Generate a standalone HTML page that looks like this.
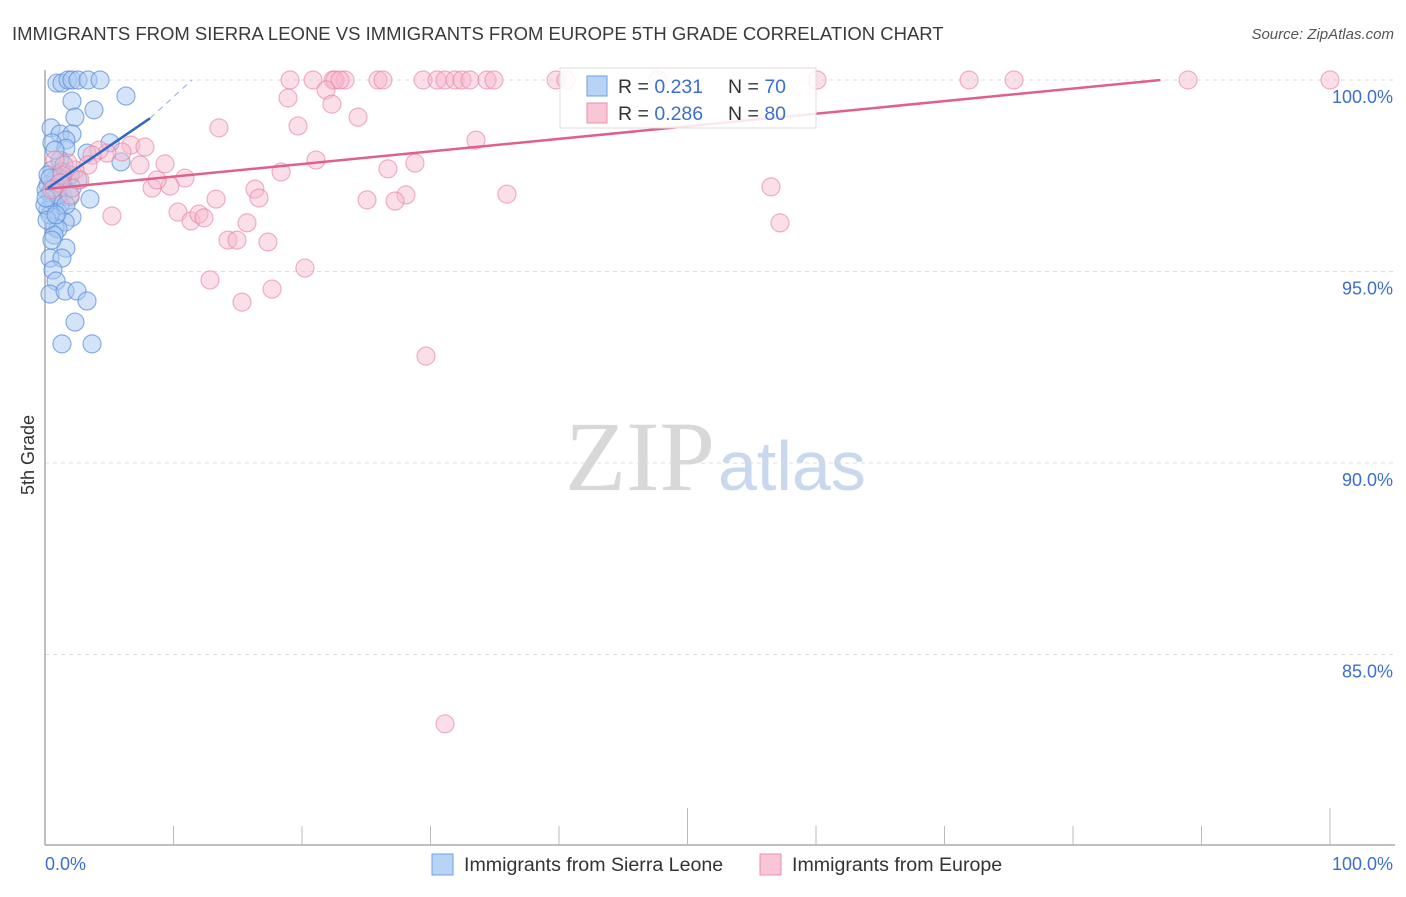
<!DOCTYPE html>
<html><head><meta charset="utf-8"><style>
body{margin:0;background:#fff;font-family:"Liberation Sans",sans-serif;}
svg text{font-family:"Liberation Sans",sans-serif;}
</style></head><body>
<svg id="chart" width="1406" height="892" xmlns="http://www.w3.org/2000/svg">
<text x="12" y="40" font-size="18.5" fill="#3a3a3a">IMMIGRANTS FROM SIERRA LEONE VS IMMIGRANTS FROM EUROPE 5TH GRADE CORRELATION CHART</text>
<text x="1394" y="39" font-size="15" fill="#555" font-style="italic" text-anchor="end">Source: ZipAtlas.com</text>
<text transform="translate(34,455) rotate(-90)" font-size="18" fill="#333" text-anchor="middle">5th Grade</text>
<g>
<text x="715" y="490" font-size="100" fill="#d8d8d8" style="font-family:'Liberation Serif',serif" text-anchor="end">ZIP</text>
<text x="718" y="490" font-size="70" fill="#c8d8ee">atlas</text>
</g>
<g id="grid"></g><g id="axes"></g><g id="trend"></g><g id="pts"></g>
<g>
<rect x="560" y="68" width="256" height="60" fill="#fff" fill-opacity="0.85" stroke="#ddd"/>
<rect x="587" y="76" width="20" height="20" fill="#b7d3f5" stroke="#6fa0e0"/>
<rect x="587" y="103" width="20" height="20" fill="#f9c6d6" stroke="#e890ad"/>
<text x="618" y="93" font-size="19.5" fill="#333">R = <tspan fill="#3a6fd0">0.231</tspan></text>
<text x="728" y="93" font-size="19.5" fill="#333">N = <tspan fill="#3a6fd0">70</tspan></text>
<text x="618" y="120" font-size="19.5" fill="#333">R = <tspan fill="#3a6fd0">0.286</tspan></text>
<text x="728" y="120" font-size="19.5" fill="#333">N = <tspan fill="#3a6fd0">80</tspan></text>
</g>
<g>
<rect x="432" y="854" width="21" height="21" fill="#b7d3f5" stroke="#6fa0e0"/>
<text x="464" y="871" font-size="19.6" fill="#333">Immigrants from Sierra Leone</text>
<rect x="760" y="854" width="21" height="21" fill="#f9c6d6" stroke="#e890ad"/>
<text x="792" y="871" font-size="19.6" fill="#333">Immigrants from Europe</text>
</g>
</svg>
<script>
const xTickLabels=["0.0%","100.0%"];
const yTicks=[100,95,90,85];
const yTickLabels=["100.0%","95.0%","90.0%","85.0%"];
const blueX=[0.93,1.32,1.79,2.1,2.57,3.35,4.28,6.3,2.1,3.81,2.33,0.47,1.17,2.1,1.63,0.54,1.63,5.06,3.27,5.91,0.54,0.86,0.23,1.01,1.71,2.57,0.39,1.32,1.95,3.5,0.78,1.17,0.23,1.01,2.1,1.56,0.78,1.01,0.7,1.63,0.39,1.32,0.62,0.86,0.39,1.56,2.49,3.27,2.33,1.32,3.66,0.39,0.54,0.08,0.23,1.17,0.78,1.48,1.95,0,0.16,0.54,1.01,0.7,1.63,2.1,0.39,1.32,0.08,0.86];
const blueY=[99.92,99.92,100,100,100,100,100,99.58,99.45,99.22,99.03,98.75,98.59,98.59,98.43,98.36,98.22,98.36,98.09,97.86,97.65,97.44,97.26,97.26,97.39,97.39,97.05,97.05,96.95,96.89,96.81,96.74,96.61,96.55,96.42,96.29,96.16,96.11,95.95,95.61,95.35,95.35,95.04,94.75,94.41,94.49,94.49,94.23,93.68,93.11,93.11,96.48,96.87,97.13,97.52,97.91,98.17,97.78,97.52,96.74,96.34,95.82,97.0,97.18,96.74,97.18,97.44,97.6,96.92,96.48];
const pinkX=[19.07,20.86,22.41,23.35,25.91,26.3,29.42,30.51,31.13,31.91,32.45,33.07,34.4,34.94,39.77,40.54,47.7,60.08,71.91,75.41,88.95,100,22.57,22.96,18.91,21.87,22.33,24.36,13.54,19.69,33.54,21.09,26.69,28.79,18.37,16.34,16.65,28.09,27.24,25.06,35.95,13.31,56.5,57.2,20.23,12.84,15.33,17.67,29.65,31.13,5.21,10.35,11.36,11.98,12.37,14.24,14.94,15.72,17.35,10.89,9.73,8.33,8.72,9.34,7.39,6.69,7.78,5.99,4.82,4.2,3.66,3.35,2.33,1.79,1.32,0.78,1.17,1.95,0.54,2.72];
const pinkY=[100,100,100,100,100,100,100,100,100,100,100,100,100,100,100,100,100,100,100,100,100,100,100,100,99.53,99.74,99.37,99.03,98.75,98.8,98.43,97.91,97.68,97.83,97.6,97.15,96.92,97.0,96.84,96.87,97.02,96.89,97.21,96.27,95.09,94.78,94.2,94.54,92.79,83.19,96.45,96.55,96.32,96.5,96.4,95.82,95.82,96.27,95.77,97.44,97.23,97.18,97.39,97.81,97.78,98.3,98.25,98.12,98.09,98.17,98.04,97.78,97.65,97.83,97.52,97.91,97.31,97.0,97.13,97.39];
const blueTrend=[[0.23,97.18],[8.17,99.0]];
const blueDash=[[8.17,99.0],[11.44,100.0]];
const pinkTrend=[[0,97.15],[86.8,100]];
const NS="http://www.w3.org/2000/svg";
const sx=v=>45+v*12.85, sy=v=>80+(100-v)*38.3;
function mk(t,a,p){const e=document.createElementNS(NS,t);for(const k in a)e.setAttribute(k,a[k]);p.appendChild(e);return e;}
const grid=document.getElementById('grid'),axes=document.getElementById('axes'),trend=document.getElementById('trend'),pts=document.getElementById('pts');
yTicks.forEach((v,i)=>{
 const l=mk('line',{x1:45,x2:1395,y1:sy(v),y2:sy(v),stroke:'#ddd','stroke-dasharray':'4,4'},grid);
 
 
 const t=mk('text',{x:1393,y:sy(v)+23,'font-size':18,fill:'#3a6fd0','text-anchor':'end'},axes);
 t.textContent=yTickLabels[i];
 
 
});
let a=mk('line',{x1:45,x2:45,y1:70,y2:845,stroke:'#aaa','stroke-width':1.5},axes);


a=mk('line',{x1:45,x2:1395,y1:845,y2:845,stroke:'#aaa','stroke-width':1.5},axes);


for(let i=1;i<=10;i++){
 const x=sx(i*10);
 const tk=mk('line',{x1:x,x2:x,y1:(i%5==0)?808:826,y2:845,stroke:'#bbb'},axes);
 
 
}
let t=mk('text',{x:45,y:870,'font-size':18,fill:'#3a6fd0'},axes);t.textContent=xTickLabels[0];


t=mk('text',{x:1393,y:870,'font-size':18,fill:'#3a6fd0','text-anchor':'end'},axes);t.textContent=xTickLabels[1];


blueX.forEach((x,i)=>{
 const c=mk('circle',{cx:sx(x),cy:sy(blueY[i]),r:9,fill:'#a9c9f2','fill-opacity':0.5,stroke:'#5b8fdc','stroke-opacity':0.7,'stroke-width':1.2},pts);
 
 
});
pinkX.forEach((x,i)=>{
 const c=mk('circle',{cx:sx(x),cy:sy(pinkY[i]),r:9,fill:'#f7b9cc','fill-opacity':0.45,stroke:'#e8809f','stroke-opacity':0.6,'stroke-width':1.2},pts);
 
 
});
let L=mk('line',{x1:sx(pinkTrend[0][0]),y1:sy(pinkTrend[0][1]),x2:sx(pinkTrend[1][0]),y2:sy(pinkTrend[1][1]),stroke:'#e0608a','stroke-width':2.5},pts);


L=mk('line',{x1:sx(blueTrend[0][0]),y1:sy(blueTrend[0][1]),x2:sx(blueTrend[1][0]),y2:sy(blueTrend[1][1]),stroke:'#2f68c8','stroke-width':2.5},pts);


L=mk('line',{x1:sx(blueDash[0][0]),y1:sy(blueDash[0][1]),x2:sx(blueDash[1][0]),y2:sy(blueDash[1][1]),stroke:'#8fb0e0','stroke-width':1,'stroke-dasharray':'6,5'},pts);


</script>
</body></html>
